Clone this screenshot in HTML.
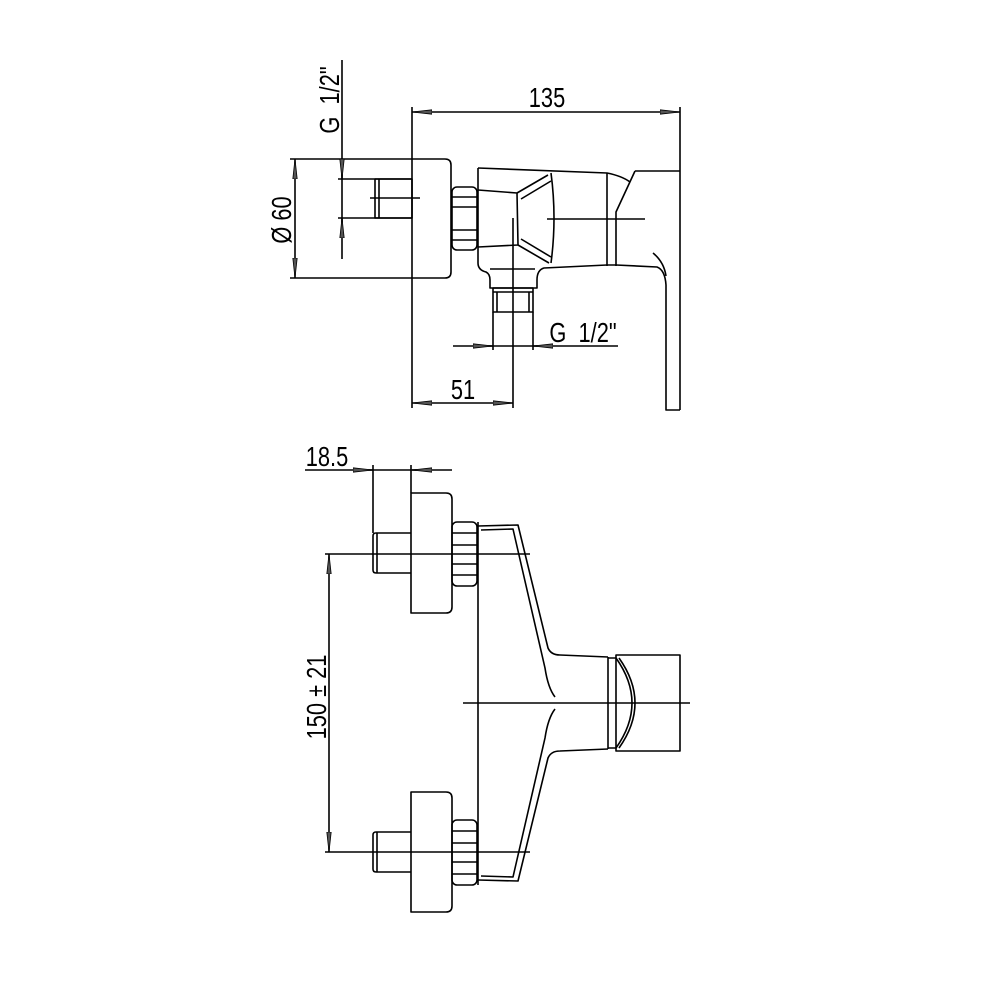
<!DOCTYPE html>
<html><head><meta charset="utf-8"><style>
html,body{margin:0;padding:0;background:#fff}
svg{display:block}
text{font-family:"Liberation Sans",sans-serif;font-size:28px;fill:#000}
</style></head><body>
<svg width="1000" height="1000" viewBox="0 0 1000 1000" xmlns="http://www.w3.org/2000/svg">
<defs>
<marker id="a" viewBox="0 0 20 6" refX="20" refY="3" markerWidth="20" markerHeight="6" markerUnits="userSpaceOnUse" orient="auto-start-reverse">
<path d="M0,0.8 L20,3 L0,5.2 Z" fill="#555" stroke="#000" stroke-width="0.8"/>
</marker>
</defs>
<g fill="none" stroke="#000" stroke-width="1.6" stroke-linejoin="round">
<line x1="412" y1="107" x2="412" y2="408"/>
<line x1="680" y1="107" x2="680" y2="410"/>
<line x1="412" y1="112" x2="680" y2="112" marker-start="url(#a)" marker-end="url(#a)"/>
<path d="M412,159 H445 Q451,159 451,165 V272 Q451,278 445,278 H412"/>
<line x1="290" y1="159" x2="412" y2="159"/>
<line x1="290" y1="278" x2="412" y2="278"/>
<line x1="295" y1="159" x2="295" y2="278" marker-start="url(#a)" marker-end="url(#a)"/>
<line x1="342" y1="60" x2="342" y2="259"/>
<line x1="342" y1="159" x2="342" y2="179" marker-end="url(#a)"/>
<line x1="342" y1="238" x2="342" y2="218" marker-end="url(#a)"/>
<line x1="338" y1="179" x2="412" y2="179"/>
<line x1="338" y1="218" x2="412" y2="218"/>
<rect x="375" y="179" width="37" height="39"/>
<line x1="379" y1="179" x2="379" y2="218"/>
<line x1="370" y1="198" x2="420" y2="198"/>
<rect x="452" y="187" width="25" height="63" rx="5"/>
<line x1="452" y1="197" x2="477" y2="197"/><line x1="452" y1="207" x2="477" y2="207"/>
<line x1="452" y1="230" x2="477" y2="230"/><line x1="452" y1="240" x2="477" y2="240"/>
<path d="M478,168 V263 Q478,270 486,272 Q490,274 490,280 V288 H537 V280 Q537,270 544,268 L607,265 H616 L657,267 Q665,270 666,285 V410 H680"/>
<path d="M478,168 L607,173 Q622,176 630,182"/>
<path d="M653,253 Q664,262 666,276"/>
<path d="M635,171 H680 M635,171 L616,212 V266"/>
<line x1="607" y1="173" x2="607" y2="266"/>
<path d="M478,190 L517,193 L518,245 L478,247"/>
<path d="M517,193 L548,175 M521,199 L551,181 M518,245 L549,263 M521,239 L551,257"/>
<path d="M551,173 Q557,218 551,263"/>
<line x1="547" y1="219" x2="645" y2="219"/>
<rect x="493" y="288" width="40" height="24"/>
<line x1="493" y1="292" x2="533" y2="292"/>
<line x1="497" y1="292" x2="497" y2="312"/>
<line x1="529" y1="292" x2="529" y2="312"/>
<line x1="513" y1="218" x2="513" y2="408"/>
<line x1="490" y1="269" x2="535" y2="269"/>
<line x1="493" y1="312" x2="493" y2="350"/>
<line x1="533" y1="312" x2="533" y2="350"/>
<line x1="453" y1="346" x2="618" y2="346"/>
<line x1="473" y1="346" x2="493" y2="346" marker-end="url(#a)"/>
<line x1="553" y1="346" x2="533" y2="346" marker-end="url(#a)"/>
<line x1="412" y1="403" x2="513" y2="403" marker-start="url(#a)" marker-end="url(#a)"/>

<line x1="305" y1="470" x2="452" y2="470"/>
<line x1="353" y1="470" x2="373" y2="470" marker-end="url(#a)"/>
<line x1="432" y1="470" x2="412" y2="470" marker-end="url(#a)"/>
<line x1="373" y1="465" x2="373" y2="533"/>
<line x1="411" y1="465" x2="411" y2="493"/>
<path d="M411,493 H446 Q452,493 452,499 V607 Q452,613 446,613 H411 Z"/>
<path d="M411,533 H376 Q373,533 373,536 V570 Q373,573 376,573 H411"/>
<line x1="377" y1="533" x2="377" y2="573"/>
<rect x="452" y="522" width="25" height="64" rx="5"/>
<line x1="452" y1="533" x2="477" y2="533"/><line x1="452" y1="545" x2="477" y2="545"/>
<line x1="452" y1="564" x2="477" y2="564"/><line x1="452" y1="575" x2="477" y2="575"/>
<line x1="325" y1="554" x2="530" y2="554"/>
<path d="M411,792 H446 Q452,792 452,798 V906 Q452,912 446,912 H411 Z"/>
<path d="M411,832 H376 Q373,832 373,835 V869 Q373,872 376,872 H411"/>
<line x1="377" y1="832" x2="377" y2="872"/>
<rect x="452" y="820" width="25" height="65" rx="5"/>
<line x1="452" y1="831" x2="477" y2="831"/><line x1="452" y1="843" x2="477" y2="843"/>
<line x1="452" y1="862" x2="477" y2="862"/><line x1="452" y1="874" x2="477" y2="874"/>
<line x1="325" y1="852" x2="530" y2="852"/>
<line x1="329" y1="554" x2="329" y2="852" marker-start="url(#a)" marker-end="url(#a)"/>
<line x1="478" y1="522" x2="478" y2="885"/>
<path d="M478,526 L518,525 L548,648 Q551,655 560,655 L608,657"/>
<path d="M478,880 L518,881 L548,758 Q551,751 560,751 L608,749"/>
<path d="M481,530 L513,529 L545,668 Q548,688 555,697"/>
<path d="M481,876 L513,877 L545,738 Q548,718 555,709"/>
<line x1="608" y1="657" x2="608" y2="749"/>
<path d="M608,658 H616 M608,748 H616"/>
<rect x="616" y="655" width="64" height="96"/>
<path d="M616,658 Q648,703 616,748"/>
<path d="M619,658 Q651,703 619,748"/>
<line x1="463" y1="703" x2="690" y2="703"/>
</g>
<text text-anchor="middle" transform="translate(547,107) scale(0.78,1)">135</text>
<text text-anchor="middle" transform="translate(463,399) scale(0.78,1)">51</text>
<text text-anchor="middle" transform="translate(583,342) scale(0.78,1)">G&#160;&#160;1/2"</text>
<text text-anchor="middle" transform="translate(327,466) scale(0.78,1)">18.5</text>
<text text-anchor="middle" transform="translate(291,220) rotate(-90) scale(0.78,1)">Ø 60</text>
<text text-anchor="middle" transform="translate(339,100) rotate(-90) scale(0.78,1)">G&#160;&#160;1/2"</text>
<text text-anchor="middle" transform="translate(326,697) rotate(-90) scale(0.78,1)">150 ± 21</text>
</svg>
</body></html>
